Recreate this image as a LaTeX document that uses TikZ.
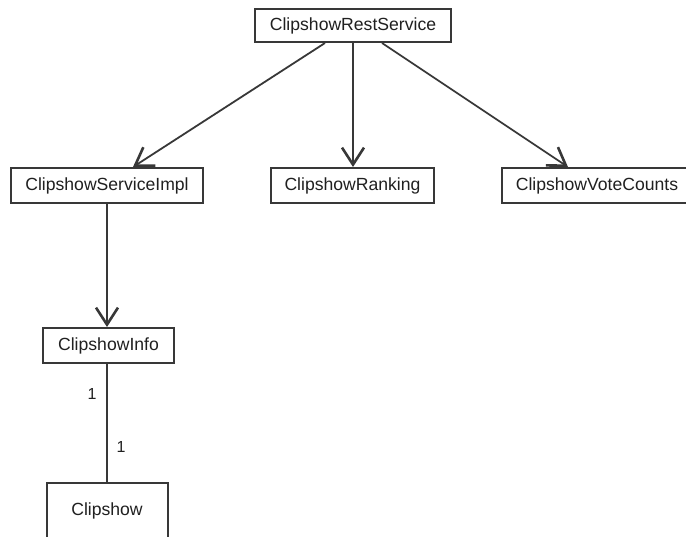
\documentclass[tikz,border=0pt]{standalone}
\usepackage{fontspec}
\setmainfont{Liberation Sans}
\usetikzlibrary{arrows.meta,calc}
\definecolor{linec}{HTML}{383838}
\definecolor{textc}{HTML}{202020}
\begin{document}
\begin{tikzpicture}[x=1pt,y=-1pt,
  cls/.style={draw=linec,line width=2pt,fill=white,inner sep=0pt,
    text=textc,font=\fontsize{17.6}{20}\selectfont,minimum height=35pt},
  dep/.style={draw=linec,line width=1.8pt,
    -{Straight Barb[length=17pt,width=22pt,line width=2.6pt]}},
  assoc/.style={draw=linec,line width=2pt},
  mult/.style={text=textc,font=\fontsize{16}{19}\selectfont,inner sep=0pt}]
\useasboundingbox (0,0) rectangle (686,536);
\clip (0,0) rectangle (686,536);
\node[cls,minimum width=196pt,minimum height=33pt] (rest) at (353,25.5) {ClipshowRestService};
\node[cls,minimum width=192pt] (impl) at (107,185.5) {ClipshowServiceImpl};
\node[cls,minimum width=163pt] (rank) at (352.5,185.5) {ClipshowRanking};
\node[cls,minimum width=190pt] (vote) at (597,185.5) {ClipshowVoteCounts};
\node[cls,minimum width=131pt] (info) at (108.5,345.5) {ClipshowInfo};
\node[cls,minimum width=121pt,minimum height=0pt,text height=32pt,text depth=31pt,anchor=north] (clip) at (107,482) {Clipshow};
\draw[dep] ($(rest.south)+(-28,0)$) -- ($(impl.north)+(26,0)$);
\draw[dep] (rest.south) -- (rest.south |- rank.north);
\draw[dep] ($(rest.south)+(29,0)$) -- ($(vote.north)+(-29,0)$);
\draw[dep] (impl.south) -- (impl.south |- info.north);
\draw[assoc] (clip.north |- info.south) -- (clip.north);
\node[mult] (m1) at (92,394) {1};
\node[mult] (m2) at (121,447) {1};
\end{tikzpicture}
\end{document}
